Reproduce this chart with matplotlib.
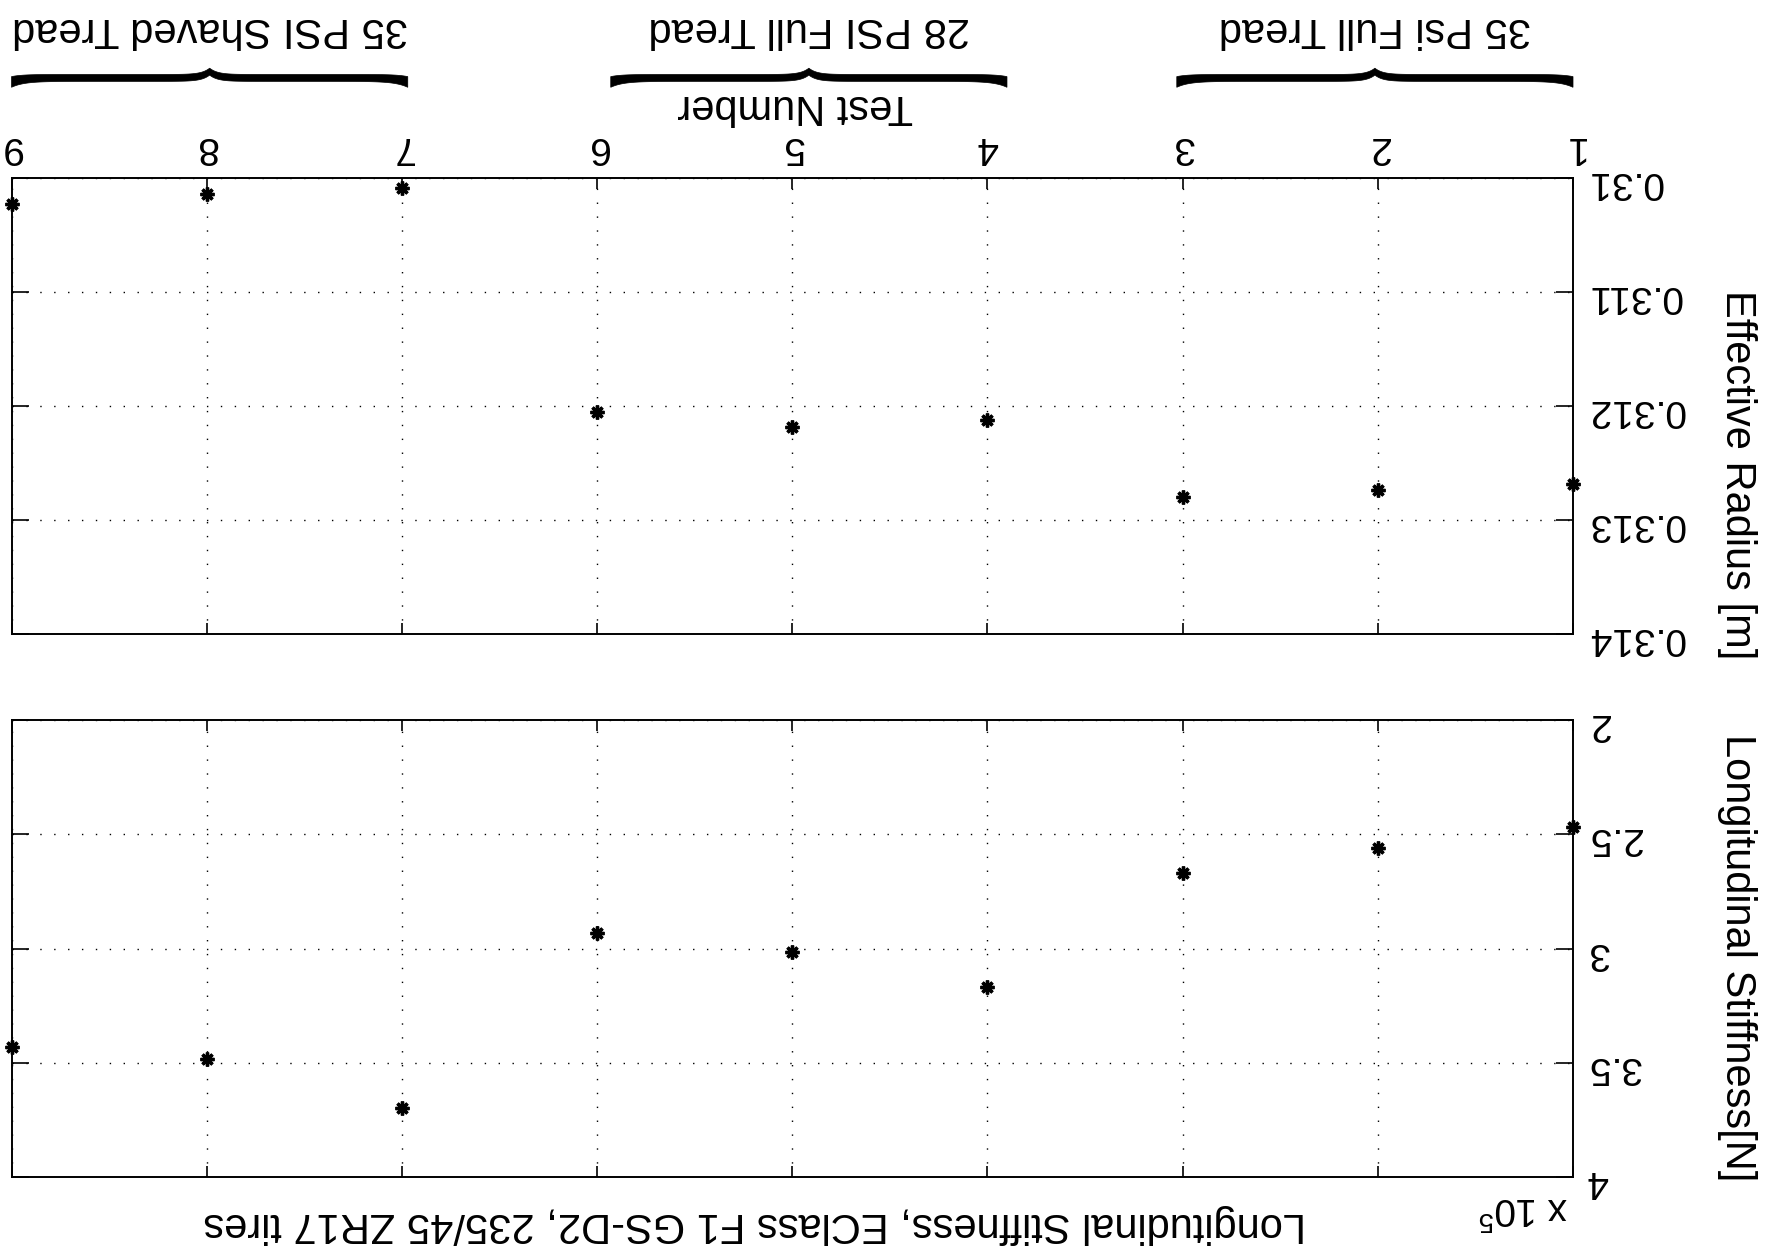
import matplotlib
matplotlib.use("Agg")
import matplotlib.pyplot as plt
import matplotlib.transforms as mtransforms
from matplotlib.patches import Polygon
from matplotlib.ticker import FuncFormatter
import numpy as np

plt.rcParams["font.family"] = ["Liberation Sans", "DejaVu Sans"]
plt.rcParams["mathtext.fontset"] = "custom"
plt.rcParams["mathtext.rm"] = "Liberation Sans"

# data (the whole figure is shown turned upside down)
tests = [1, 2, 3, 4, 5, 6, 7, 8, 9]
radius = [0.31268, 0.31274, 0.31280, 0.31212, 0.31218, 0.31205, 0.31009, 0.31014, 0.31023]
stiffness = [2.47e5, 2.56e5, 2.67e5, 3.17e5, 3.015e5, 2.93e5, 3.70e5, 3.485e5, 3.43e5]
radius_ticks = [0.310, 0.311, 0.312, 0.313, 0.314]
stiffness_ticks = [2.0e5, 2.5e5, 3.0e5, 3.5e5, 4.0e5]
group_names = ["35 Psi Full Tread", "28 PSI Full Tread", "35 PSI Shaved Tread"]
group_lo = [1.0, 3.9, 6.97]
group_hi = [3.03, 5.93, 9.0]

FS = 28      # tick labels
LFS = 30     # labels / title
ROT = 180


def style_axes(ax):
    ax.set_xlim(9, 1)
    ax.set_xticks(tests)
    ax.grid(True, color="black", linestyle=(0, (1, 9)), linewidth=1.0)
    for s in ax.spines.values():
        s.set_linewidth(1.4)
    ax.tick_params(axis="y", direction="in", left=True, right=True,
                   labelleft=False, labelright=True, labelrotation=ROT,
                   labelsize=FS, length=12, width=1.2, pad=10)
    ax.tick_params(axis="x", direction="in", top=True, bottom=True,
                   labelbottom=False, labeltop=False, labelrotation=ROT,
                   labelsize=FS, length=8, width=1.2, pad=9)


def brace(fig, ax, x0, x1, y_end=0.9348, dy_flat=0.0032, dy_tip=0.0050,
          t_mid=0.0055, t_end=0.0085):
    trans = mtransforms.blended_transform_factory(ax.transData, fig.transFigure)
    u = np.linspace(0, 1, 401)
    d = np.minimum(u, 1 - u)
    centre = y_end + dy_flat * (1 - np.exp(-d / 0.03)) + dy_tip * np.exp(-(0.5 - d) / 0.02)
    thick = t_mid + (t_end - t_mid) * np.exp(-d / 0.035)
    xs = x0 + (x1 - x0) * u
    upper = centre + thick / 2
    lower = centre - thick / 2
    pts = np.column_stack([np.concatenate([xs, xs[::-1]]),
                           np.concatenate([upper, lower[::-1]])])
    fig.add_artist(Polygon(pts, closed=True, transform=trans,
                           facecolor="black", edgecolor="black", lw=0.5,
                           clip_on=False))
    return trans


fig = plt.figure(figsize=(17.75, 12.57), dpi=100)
ax_r = fig.add_axes([0.0065, 0.4956, 0.8797, 0.3628])
ax_s = fig.add_axes([0.0065, 0.0636, 0.8797, 0.3636])

style_axes(ax_r)
ax_r.tick_params(axis="x", labeltop=True)
ax_r.set_ylim(0.314, 0.310)
ax_r.set_yticks(radius_ticks)
ax_r.yaxis.set_major_formatter(FuncFormatter(lambda v, p: "%g" % round(v, 4)))
ax_r.plot(tests, radius, linestyle="none", marker=(8, 2, 0), color="black",
          markersize=10, markeredgewidth=2.4, clip_on=False, zorder=5)

style_axes(ax_s)
ax_s.set_ylim(4.0e5, 2.0e5)
ax_s.set_yticks(stiffness_ticks)
ax_s.yaxis.set_major_formatter(FuncFormatter(lambda v, p: "%g" % round(v / 1e5, 2)))
ax_s.plot(tests, stiffness, linestyle="none", marker=(8, 2, 0), color="black",
          markersize=10, markeredgewidth=2.4, clip_on=False, zorder=5)

# labels, all upside down
fig.text(0.9785, 0.622, "Effective Radius [m]", rotation=270, fontsize=LFS,
         ha="center", va="center")
fig.text(0.9785, 0.238, "Longitudinal Stiffness[N]", rotation=270, fontsize=LFS,
         ha="center", va="center")
fig.text(0.4254, 0.0265, "Longitudinal Stiffness, EClass F1 GS-D2, 235/45 ZR17 tires",
         rotation=ROT, fontsize=LFS, ha="center", va="center")
fig.text(0.448, 0.9155, "Test Number", rotation=ROT, fontsize=LFS,
         ha="center", va="center")
fig.text(0.858, 0.039, r"x 10$^{5}$", rotation=ROT, fontsize=FS,
         ha="center", va="center")

for name, lo, hi in zip(group_names, group_lo, group_hi):
    trans = brace(fig, ax_r, lo, hi)
    fig.text((lo + hi) / 2, 0.9766, name, rotation=ROT, fontsize=LFS,
             ha="center", va="center", transform=trans)

fig.savefig("out.png", dpi=100)
